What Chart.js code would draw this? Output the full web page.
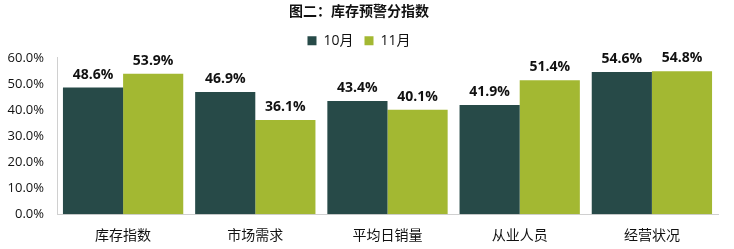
<!DOCTYPE html>
<html>
<head>
<meta charset="utf-8">
<script src="https://cdn.jsdelivr.net/npm/chart.js@4"></script>
<style>
  html, body { margin: 0; padding: 0; background: #fff; }
  #wrap { width: 734px; height: 249px; }
</style>
</head>
<body>
<div id="wrap"><canvas id="chart"></canvas></div>
<script>
var categories = ['库存指数', '市场需求', '平均日销量', '从业人员', '经营状况'];
var octValues = [48.6, 46.9, 43.4, 41.9, 54.6];
var novValues = [53.9, 36.1, 40.1, 51.4, 54.8];
var seriesNames = ['10月', '11月'];
var yTicks = [0, 10, 20, 30, 40, 50, 60];

var FONT = '"Open Sans", "Noto Sans CJK SC", sans-serif';

// draws the value above each bar
var valueLabels = {
  id: 'valueLabels',
  afterDatasetsDraw: function(chart) {
    var ctx = chart.ctx;
    ctx.save();
    ctx.font = 'bold 14px ' + FONT;
    ctx.fillStyle = '#111';
    ctx.textAlign = 'center';
    ctx.textBaseline = 'bottom';
    chart.data.datasets.forEach(function(ds, i) {
      chart.getDatasetMeta(i).data.forEach(function(bar, j) {
        ctx.fillText(ds.data[j].toFixed(1) + '%', bar.x, bar.y - 6);
      });
    });
    ctx.restore();
  }
};

new Chart(document.getElementById('chart'), {
  type: 'bar',
  data: {
    labels: categories,
    datasets: [
      { label: seriesNames[0], data: octValues, backgroundColor: '#274a48' },
      { label: seriesNames[1], data: novValues, backgroundColor: '#a3b832' }
    ]
  },
  options: {
    responsive: true,
    maintainAspectRatio: false,
    animation: false,
    layout: { padding: { left: 0, right: 16, top: 2, bottom: 0 } },
    datasets: {
      bar: { categoryPercentage: 0.91, barPercentage: 1.0 }
    },
    plugins: {
      title: {
        display: true,
        text: '图二：库存预警分指数',
        color: '#111',
        font: { family: FONT, size: 14, weight: 'bold' },
        padding: { top: 2, bottom: 2 }
      },
      legend: {
        position: 'top',
        labels: {
          boxWidth: 9,
          boxHeight: 9,
          color: '#111',
          font: { family: FONT, size: 14 },
          padding: 11
        }
      },
      tooltip: { enabled: false }
    },
    scales: {
      x: {
        grid: { display: false },
        border: { color: '#d0d0d0' },
        ticks: { color: '#111', font: { family: FONT, size: 14 }, padding: 5 }
      },
      y: {
        min: yTicks[0],
        max: yTicks[yTicks.length - 1],
        grid: { display: false },
        border: { color: '#d0d0d0' },
        // fixed axis width so the plot starts where the original does
        afterFit: function(axis) { axis.width = 57; },
        ticks: {
          stepSize: 10,
          color: '#111',
          font: { family: FONT, size: 13 },
          padding: 5,
          callback: function(v) { return v.toFixed(1) + '%'; }
        }
      }
    }
  },
  plugins: [valueLabels]
});
</script>
</body>
</html>
